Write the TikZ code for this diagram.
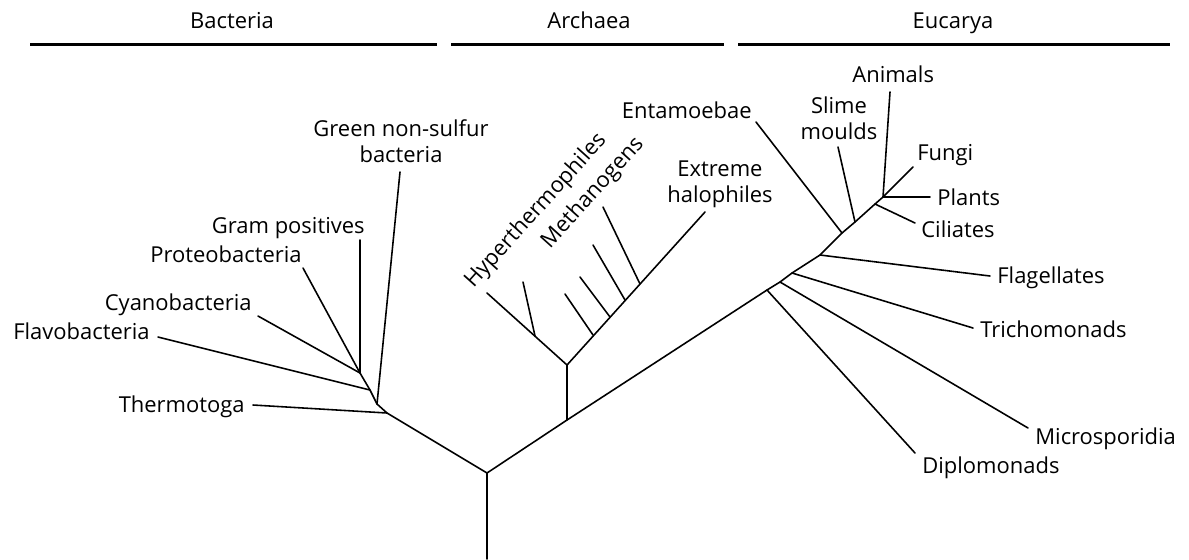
\documentclass[tikz,border=0pt]{standalone}
\usepackage{fontspec}
\setmainfont{Open Sans}

\begin{document}
\begin{tikzpicture}[x=0.02cm, y=-0.02cm,
    lbl/.style={inner sep=0pt, font=\fontsize{12.5}{15}\selectfont},
    branch/.style={line width=0.9pt, line join=round, line cap=round},
    domainline/.style={line width=1.7pt}]
    \useasboundingbox (0,0) rectangle (1189,559);

    % Domains
    \node[lbl, anchor=base] (bact) at (232,28) {Bacteria};
    \node[lbl, anchor=base] (arch) at (589,28) {Archaea};
    \node[lbl, anchor=base] (euca) at (953,28) {Eucarya};
    \coordinate (bactL) at (30,44);  \coordinate (bactR) at (437,44);
    \coordinate (archL) at (451,44); \coordinate (archR) at (724,44);
    \coordinate (eucaL) at (738,44); \coordinate (eucaR) at (1170,44);
    \draw[domainline] (bactL) -- (bactR);
    \draw[domainline] (archL) -- (archR);
    \draw[domainline] (eucaL) -- (eucaR);

    % Junctions
    \coordinate (base) at (487,559);
    \coordinate (root) at (487,473);
    \coordinate (b1) at (387,413);
    \coordinate (b2) at (377,404);
    \coordinate (b3) at (370,390);
    \coordinate (b4) at (360,373);
    \coordinate (a0) at (567,420);
    \coordinate (a1) at (567,365);
    \coordinate (h1) at (535,336);
    \coordinate (m1) at (593,335);
    \coordinate (m2) at (610,317);
    \coordinate (m3) at (625,300);
    \coordinate (m4) at (640,284);
    \coordinate (e1) at (767,290);
    \coordinate (e2) at (780,282);
    \coordinate (e3) at (792,273);
    \coordinate (e4) at (820,255);
    \coordinate (e5) at (842,233);
    \coordinate (e6) at (855,222);
    \coordinate (e7) at (875,204);
    \coordinate (e8) at (883,197);

    % Tips
    \coordinate (thermoT) at (253,405);
    \coordinate (flavoT) at (158,337);
    \coordinate (cyanoT) at (258,316);
    \coordinate (proteoT) at (303,268);
    \coordinate (gramT) at (360,240);
    \coordinate (greenT) at (400,172);
    \coordinate (hypT) at (487,293);
    \coordinate (h1T) at (523,282);
    \coordinate (m1T) at (565,294);
    \coordinate (m2T) at (580,277);
    \coordinate (m3T) at (593,245);
    \coordinate (m4T) at (603,207);
    \coordinate (haloT) at (705,212);
    \coordinate (diploT) at (915,453);
    \coordinate (microT) at (1028,428);
    \coordinate (trichoT) at (973,328);
    \coordinate (flagT) at (990,276);
    \coordinate (entamT) at (756,122);
    \coordinate (slimeT) at (838,147);
    \coordinate (ciliT) at (915,223);
    \coordinate (animT) at (890,92);
    \coordinate (fungiT) at (913,167);
    \coordinate (plantT) at (930,197);

    % Labels
    \node[lbl, anchor=base east] (thermo) at (245,412) {Thermotoga};
    \node[lbl, anchor=base east] (flavo) at (150,339) {Flavobacteria};
    \node[lbl, anchor=base east] (cyano) at (252,310) {Cyanobacteria};
    \node[lbl, anchor=base east] (proteo) at (302,262) {Proteobacteria};
    \node[lbl, anchor=base east] (gram) at (365,233) {Gram positives};
    \node[lbl, align=center] (green) at (401,141) {Green non-sulfur\\bacteria};
    \node[lbl, rotate=48] (hyper) at (536,211) {Hyperthermophiles};
    \node[lbl, rotate=48] (metha) at (593,193) {Methanogens};
    \node[lbl, align=center] (halo) at (720,184) {Extreme\\halophiles};
    \node[lbl, anchor=base east] (entam) at (752,118) {Entamoebae};
    \node[lbl, align=center] (slime) at (839,118) {Slime\\moulds};
    \node[lbl, anchor=base west] (anim) at (852,82) {Animals};
    \node[lbl, anchor=base west] (fungi) at (917,160) {Fungi};
    \node[lbl, anchor=base west] (plant) at (937,205) {Plants};
    \node[lbl, anchor=base west] (cili) at (921,237) {Ciliates};
    \node[lbl, anchor=base west] (flag) at (997,283) {Flagellates};
    \node[lbl, anchor=base west] (tricho) at (980,337) {Trichomonads};
    \node[lbl, anchor=base west] (micro) at (1035,444) {Microsporidia};
    \node[lbl, anchor=base west] (diplo) at (922,473) {Diplomonads};

    % Trunk
    \draw[branch] (base) -- (root);
    \draw[branch] (root) -- (b1) -- (b2) -- (b3) -- (b4);
    \draw[branch] (root) -- (a0) -- (e1) -- (e2) -- (e3) -- (e4) -- (e5) -- (e6) -- (e7) -- (e8);
    \draw[branch] (a0) -- (a1);

    % Bacteria
    \draw[branch] (b1) -- (thermoT);
    \draw[branch] (b2) -- (greenT);
    \draw[branch] (b3) -- (flavoT);
    \draw[branch] (b4) -- (cyanoT);
    \draw[branch] (b4) -- (proteoT);
    \draw[branch] (b4) -- (gramT);

    % Archaea
    \draw[branch] (a1) -- (hypT);
    \draw[branch] (h1) -- (h1T);
    \draw[branch] (a1) -- (haloT);
    \draw[branch] (m1) -- (m1T);
    \draw[branch] (m2) -- (m2T);
    \draw[branch] (m3) -- (m3T);
    \draw[branch] (m4) -- (m4T);

    % Eucarya
    \draw[branch] (e1) -- (diploT);
    \draw[branch] (e2) -- (microT);
    \draw[branch] (e3) -- (trichoT);
    \draw[branch] (e4) -- (flagT);
    \draw[branch] (e5) -- (entamT);
    \draw[branch] (e6) -- (slimeT);
    \draw[branch] (e7) -- (ciliT);
    \draw[branch] (e8) -- (animT);
    \draw[branch] (e8) -- (fungiT);
    \draw[branch] (e8) -- (plantT);
\end{tikzpicture}
\end{document}
